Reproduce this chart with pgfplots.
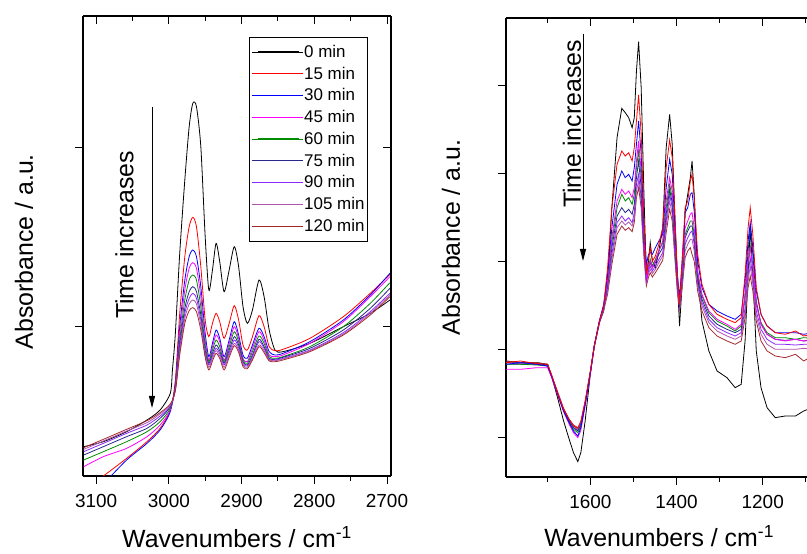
\documentclass[border=0pt]{standalone}
\usepackage{pgfplots}
\pgfplotsset{compat=1.18}
\usepackage{pgfplotstable}
\usepackage{fontspec}
\setmainfont{Liberation Sans}
\usetikzlibrary{arrows.meta}
\definecolor{cred}{RGB}{255,0,0}
\definecolor{cblue}{RGB}{0,0,255}
\definecolor{cmag}{RGB}{255,0,255}
\definecolor{cgreen}{RGB}{0,140,0}
\definecolor{cnavy}{RGB}{40,40,140}
\definecolor{cviolet}{RGB}{140,40,255}
\definecolor{cplum}{RGB}{175,85,175}
\definecolor{cwine}{RGB}{165,40,45}

\pgfplotstableread{
w k
3117 88
3090 103
3058 133
3030 168
3012 198
2998 248
2995 318
2991 428
2985 668
2978 888
2972 1048
2967 1118
2962 1108
2956 988
2950 718
2945 558
2940 618
2935 698
2930 643
2924 553
2917 618
2910 688
2904 628
2898 508
2892 458
2885 498
2876 588
2869 538
2862 438
2854 378
2843 373
2806 398
2760 448
2723 488
2696 528
}\leftk

\pgfplotstableread{
w r b m g n p v br
3117 -42 -60 28 48 63 73 80 85
3090 0 -22 58 73 88 98 105 110
3058 53 48 83 103 118 128 135 140
3030 103 98 118 133 143 153 160 166
3012 143 138 153 163 173 180 186 190
2998 198 193 198 203 208 210 213 216
2991 288 278 273 268 263 260 258 256
2985 488 448 428 408 393 383 373 363
2978 658 588 558 528 503 488 473 458
2972 748 658 623 588 553 533 516 496
2967 776 678 640 603 568 548 528 505
2962 748 658 623 588 553 533 516 493
2956 628 568 538 508 483 468 453 438
2950 468 428 408 393 378 370 363 356
2945 418 358 348 343 338 333 326 318
2940 458 398 388 378 368 360 353 345
2935 488 438 423 408 393 383 376 368
2930 463 413 403 388 376 368 360 353
2924 413 358 348 343 338 333 326 318
2917 458 408 398 388 378 370 363 356
2910 511 463 448 433 418 408 398 391
2904 468 423 413 403 393 385 378 371
2898 393 363 353 348 343 338 333 328
2892 378 353 343 338 333 330 326 322
2885 418 393 383 373 363 358 353 348
2876 481 443 433 420 410 403 393 388
2869 448 418 408 398 388 383 376 370
2862 388 373 363 358 353 350 348 345
2854 376 363 358 353 350 348 346 343
2843 380 368 363 358 356 353 351 348
2806 413 403 398 388 383 378 376 373
2760 478 468 463 448 438 430 426 423
2723 548 543 538 518 503 493 488 483
2696 605 608 598 580 563 548 543 538
}\leftc

\pgfplotstableread{
w k r b m g n p v br
1796 348 343 338 323 338 343 338 343 348
1762 343 348 343 323 338 343 338 340 343
1724 343 340 338 328 336 340 338 338 343
1699 338 338 333 328 333 336 333 335 338
1689 298 303 300 296 298 300 298 300 303
1676 238 253 250 248 248 250 250 253 256
1662 168 203 198 196 198 200 200 203 206
1649 113 173 163 158 163 168 168 170 173
1639 73 153 138 133 143 148 148 153 156
1629 46 146 123 118 133 138 140 143 148
1622 73 168 148 140 153 156 158 160 163
1612 168 228 218 213 218 220 220 223 226
1600 308 318 313 310 313 313 313 313 313
1591 393 393 393 390 390 390 390 390 390
1579 463 468 468 466 466 466 463 463 463
1569 498 513 518 513 513 510 506 503 500
1560 588 628 608 588 583 578 568 558 548
1550 808 808 748 718 703 688 668 653 638
1538 1018 938 878 828 808 783 763 748 728
1527 1106 978 918 863 848 808 783 768 753
1519 1093 963 898 848 828 793 768 756 740
1511 1078 973 908 858 838 803 778 765 748
1503 1048 948 888 838 818 788 763 753 736
1498 1078 988 928 868 848 818 793 778 763
1493 1218 1068 998 948 928 898 878 858 838
1488 1306 1146 1068 1008 978 948 908 888 868
1482 1168 1028 968 918 898 868 838 823 808
1476 868 788 768 738 728 708 688 678 668
1470 598 608 638 598 603 598 588 583 573
1465 648 658 668 628 633 628 618 610 600
1461 703 688 673 648 653 643 633 623 613
1456 648 648 668 628 633 628 618 610 600
1449 628 663 688 648 653 643 633 623 613
1441 678 698 708 678 678 668 653 643 630
1432 748 748 728 708 703 688 673 663 650
1424 988 928 868 828 808 788 768 753 733
1416 1088 1011 953 898 878 863 848 828 803
1410 998 958 908 858 838 823 808 788 768
1404 788 788 758 728 713 703 688 673 658
1398 588 608 608 588 583 578 568 563 553
1393 453 518 538 518 518 518 513 508 503
1387 578 648 648 618 608 598 588 578 568
1380 798 808 793 748 728 718 698 678 658
1374 848 828 808 768 748 738 718 698 678
1368 898 888 848 788 768 753 733 713 688
1364 948 908 853 793 768 753 738 713 668
1359 848 838 798 748 728 718 698 678 648
1351 608 668 648 618 608 598 583 573 558
1341 468 578 568 548 543 533 523 513 498
1325 378 518 518 498 493 483 473 463 448
1306 318 488 498 473 468 458 448 438 423
1283 298 473 483 458 453 443 433 423 408
1264 268 463 473 443 438 433 423 413 398
1250 278 478 488 458 453 443 433 423 408
1241 408 608 588 548 538 548 508 493 478
1234 608 748 708 648 638 678 608 588 568
1229 748 808 763 688 693 748 658 633 603
1223 608 728 688 628 628 668 598 578 558
1215 378 568 558 518 518 528 498 483 468
1204 268 488 488 458 463 458 443 428 408
1190 208 453 453 428 433 428 413 398 378
1171 178 433 433 413 418 413 398 383 363
1148 183 428 433 408 418 410 398 383 358
1124 183 438 433 413 413 413 396 383 368
1105 198 423 428 408 418 408 398 386 348
1085 208 428 433 410 416 413 398 383 363
}\rightd

\pgfplotsset{
  base/.style={scale only axis, x dir=reverse,
    axis line style={line width=1.1bp},
    every tick/.style={black,line width=1bp},
    major tick length=8bp, minor tick length=5bp,
    tick label style={font=\fontsize{19}{22}\selectfont},
    xticklabel style={yshift=-7bp},
    /pgf/number format/assume math mode=true,
    /pgf/number format/1000 sep={},
    yticklabels={},
    label style={font=\fontsize{25}{30}\selectfont},
    every axis plot/.append style={line width=0.8bp}},
  mainax/.style={base, axis x line*=bottom, axis y line*=left, tick align=outside},
  mirrorax/.style={base, axis x line*=top, axis y line*=right, tick align=inside, xticklabels={}},
  leftlim/.style={width=308bp, height=460bp, xmin=2694.5, xmax=3118, ymin=0, ymax=1380,
    xtick={2700,2800,2900,3000,3100}, minor xtick={2750,2850,2950,3050}, ytick={447,984}},
  rightlim/.style={width=306.3bp, height=459bp, xmin=1085, xmax=1795.6, ymin=0, ymax=1377,
    xtick={1200,1400,1600}, minor xtick={1100,1300,1500,1700}, ytick={117,381,645,909,1173}},
}

\begin{document}
\begin{tikzpicture}[x=1bp,y=1bp]
\path[use as bounding box] (0,0) rectangle (807,554);

% ---------- left panel ----------
\begin{axis}[mainax, leftlim, at={(83bp,78bp)}, anchor=south west,
  xlabel={Wavenumbers / cm\textsuperscript{-1}},
  ylabel={Absorbance / a.u.},
  xlabel style={at={(axis description cs:0.5,-0.1565)}, anchor=base},
  ylabel style={at={(axis description cs:-0.1916,0.4876)}, anchor=center},
  legend cell align=left,
  legend image code/.code={\path (-6bp,0bp) -- (45bp,0bp);\draw[#1,line width=1.1bp] (0bp,0bp) -- (41bp,0bp);},
  legend style={at={(0.539,0.955)}, anchor=north west, draw=black, line width=0.8bp,
    font=\fontsize{17}{20}\selectfont, inner xsep=2bp, inner ysep=7bp,
    row sep=6bp, nodes={inner sep=1bp}},
]
\addplot[black, smooth, tension=0.45] table[x=w,y=k] {\leftk};
\addlegendentry{0 min}
\addplot[cred, smooth, tension=0.45] table[x=w,y=r] {\leftc};
\addlegendentry{15 min}
\addplot[cblue, smooth, tension=0.45] table[x=w,y=b] {\leftc};
\addlegendentry{30 min}
\addplot[cmag, smooth, tension=0.45] table[x=w,y=m] {\leftc};
\addlegendentry{45 min}
\addplot[cgreen, smooth, tension=0.45] table[x=w,y=g] {\leftc};
\addlegendentry{60 min}
\addplot[cnavy, smooth, tension=0.45] table[x=w,y=n] {\leftc};
\addlegendentry{75 min}
\addplot[cviolet, smooth, tension=0.45] table[x=w,y=p] {\leftc};
\addlegendentry{90 min}
\addplot[cplum, smooth, tension=0.45] table[x=w,y=v] {\leftc};
\addlegendentry{105 min}
\addplot[cwine, smooth, tension=0.45] table[x=w,y=br] {\leftc};
\addlegendentry{120 min}
\end{axis}
\begin{axis}[mirrorax, leftlim, at={(83bp,78bp)}, anchor=south west]
\end{axis}

% ---------- right panel ----------
\begin{axis}[mainax, rightlim, at={(506bp,77bp)}, anchor=south west,
  xlabel={Wavenumbers / cm\textsuperscript{-1}},
  ylabel={Absorbance / a.u.},
  xlabel style={at={(axis description cs:0.5,-0.1525)}, anchor=base},
  ylabel style={at={(axis description cs:-0.18,0.522)}, anchor=center},
]
\addplot[black] table[x=w,y=k] {\rightd};
\addplot[cwine] table[x=w,y=br] {\rightd};
\addplot[cplum] table[x=w,y=v] {\rightd};
\addplot[cviolet] table[x=w,y=p] {\rightd};
\addplot[cnavy] table[x=w,y=n] {\rightd};
\addplot[cgreen] table[x=w,y=g] {\rightd};
\addplot[cmag] table[x=w,y=m] {\rightd};
\addplot[cblue] table[x=w,y=b] {\rightd};
\addplot[cred] table[x=w,y=r] {\rightd};
\end{axis}
\begin{axis}[mirrorax, rightlim, at={(506bp,77bp)}, anchor=south west, ytick=\empty]
\end{axis}

% ---------- annotations ----------
\draw[line width=0.9bp, -{Triangle[length=12bp,width=6bp]}] (152,447) -- (152,146);
\node[rotate=90, font=\fontsize{25}{30}\selectfont] at (124.5,319) {Time increases};
\draw[line width=0.9bp, -{Triangle[length=12bp,width=6bp]}] (583,520) -- (583,293);
\node[rotate=90, font=\fontsize{25}{30}\selectfont] at (572,430) {Time increases};
\end{tikzpicture}
\end{document}
